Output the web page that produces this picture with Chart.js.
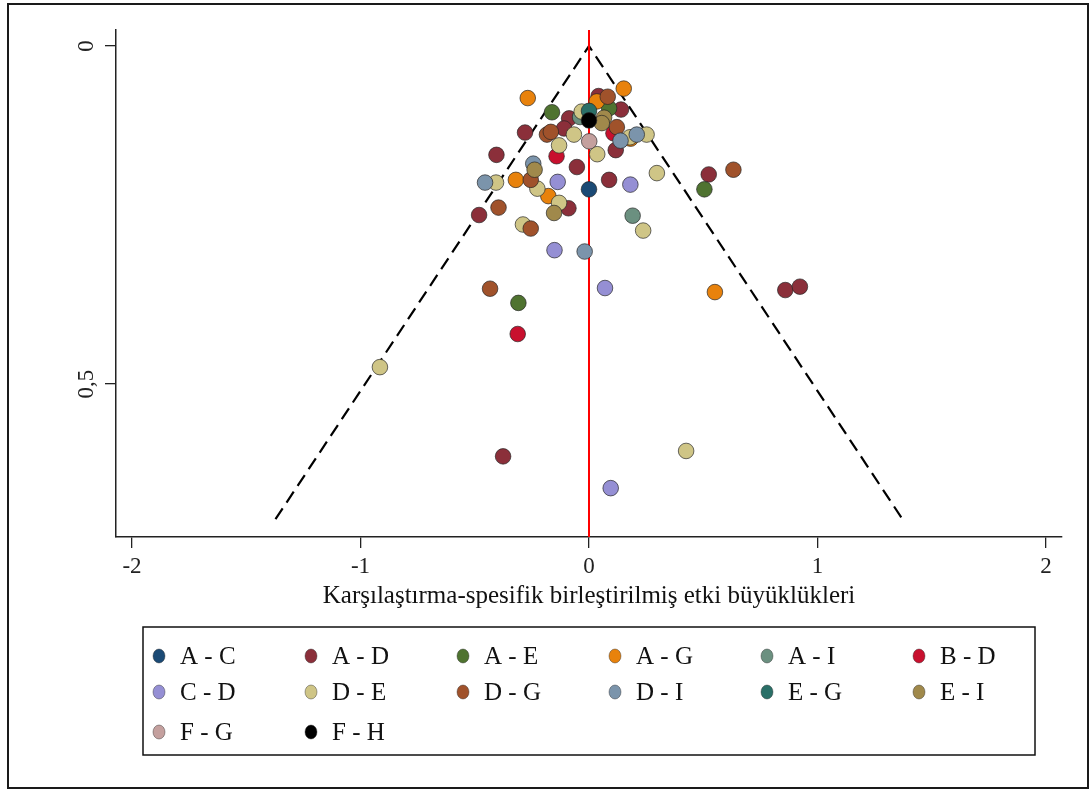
<!DOCTYPE html>
<html>
<head>
<meta charset="utf-8">
<script src="https://cdn.jsdelivr.net/npm/chart.js@4.4.1/dist/chart.umd.min.js"></script>
<style>
  html, body { margin: 0; padding: 0; background: #fff; }
  #wrap { width: 1092px; height: 794px; position: relative; }
</style>
</head>
<body>
<div id="wrap"><canvas id="c" width="1092" height="794"></canvas></div>
<script>
// Comparison labels (legend order)
const categories = ['A - C', 'A - D', 'A - E', 'A - G', 'A - I', 'B - D',
                    'C - D', 'D - E', 'D - G', 'D - I', 'E - G', 'E - I',
                    'F - G', 'F - H'];

// Each study: [comparison-specific pooled effect size, standard error]
const seriesAC = [[0.000, 0.212]];
const seriesAD = [[0.042, 0.074], [-0.087, 0.107], [-0.109, 0.122], [-0.280, 0.128],
                  [0.140, 0.094], [0.117, 0.154], [-0.405, 0.161], [-0.053, 0.179],
                  [0.088, 0.198], [-0.090, 0.240], [-0.481, 0.250], [0.524, 0.190],
                  [0.859, 0.361], [0.923, 0.356], [-0.376, 0.607]];
const seriesAE = [[-0.162, 0.098], [0.088, 0.092], [0.505, 0.212], [-0.309, 0.380]];
const seriesAG = [[-0.268, 0.077], [0.152, 0.063], [0.034, 0.082], [-0.320, 0.198],
                  [-0.178, 0.222], [0.551, 0.364], [0.182, 0.137]];
const seriesAI = [[0.191, 0.251], [-0.039, 0.105]];
const seriesBD = [[-0.142, 0.163], [-0.312, 0.426], [0.107, 0.129]];
const seriesCD = [[-0.137, 0.201], [0.181, 0.205], [-0.151, 0.302], [0.070, 0.358],
                  [0.095, 0.654]];
const seriesDE = [[-0.032, 0.097], [-0.066, 0.131], [-0.131, 0.147], [0.036, 0.160],
                  [0.252, 0.131], [0.297, 0.188], [-0.407, 0.202], [-0.226, 0.211],
                  [-0.131, 0.232], [0.237, 0.273], [-0.289, 0.264], [-0.915, 0.475],
                  [0.425, 0.599], [0.179, 0.135]];
const seriesDG = [[0.082, 0.075], [-0.184, 0.131], [-0.167, 0.127], [0.122, 0.120],
                  [-0.255, 0.198], [-0.396, 0.239], [-0.255, 0.270], [0.632, 0.183],
                  [-0.433, 0.359]];
const seriesDI = [[0.138, 0.140], [0.209, 0.131], [-0.244, 0.174], [-0.455, 0.202],
                  [-0.019, 0.304]];
const seriesEG = [[0.000, 0.096]];
const seriesEI = [[0.066, 0.106], [0.056, 0.114], [-0.238, 0.183], [-0.153, 0.247]];
const seriesFG = [[0.001, 0.141]];
const seriesFH = [[0.000, 0.110]];

const allSeries = [seriesAC, seriesAD, seriesAE, seriesAG, seriesAI, seriesBD,
                   seriesCD, seriesDE, seriesDG, seriesDI, seriesEG, seriesEI,
                   seriesFG, seriesFH];

const colors = ['#1b4a75', '#8b2f3a', '#4f7330', '#e8820c', '#6b9080', '#c8102e',
                '#958fd4', '#cfc586', '#a0522b', '#7b94ab', '#2a6f67', '#a0894b',
                '#c4a09e', '#000000'];

// Pseudo 95% confidence funnel and the zero-effect reference line
const funnelX = [-1.372, 0, 1.372];
const funnelY = [0.700, 0, 0.700];
const refX = [0, 0];
const refY = [-0.0237, 0.7263];

const xTicks = [-2, -1, 0, 1, 2];
const yTicks = [0, 0.5];
const xTitle = 'Karşılaştırma-spesifik birleştirilmiş etki büyüklükleri';

const SERIF = '"Liberation Serif", "Times New Roman", serif';

const pointSets = allSeries.map((s, i) => ({
  type: 'scatter',
  label: categories[i],
  data: s.map(([x, y]) => ({ x, y })),
  backgroundColor: colors[i],
  borderColor: 'rgba(35,35,35,0.85)',
  borderWidth: 0.8,
  pointRadius: 7.8,
  order: 40 - i
}));

const lineSets = [
  {
    type: 'line', label: 'funnel',
    data: funnelX.map((x, i) => ({ x, y: funnelY[i] })),
    borderColor: '#000', borderWidth: 2.2, borderDash: [13, 7],
    pointRadius: 0, fill: false, tension: 0, order: 100
  },
  {
    type: 'line', label: 'ref',
    data: refX.map((x, i) => ({ x, y: refY[i] })),
    borderColor: '#ff0000', borderWidth: 2, pointRadius: 0,
    fill: false, tension: 0, order: 90
  }
];

// Frame, rotated y labels and the boxed legend
const decorations = {
  id: 'decorations',
  afterDraw(chart) {
    const ctx = chart.ctx;
    ctx.save();
    // outer frame
    ctx.strokeStyle = '#1a1a1a';
    ctx.lineWidth = 2;
    ctx.strokeRect(8, 4, 1080, 784);

    // y tick labels, reading bottom to top
    const ys = chart.scales.y;
    ctx.fillStyle = '#222';
    ctx.font = '23px ' + SERIF;
    ctx.textAlign = 'center';
    ctx.textBaseline = 'middle';
    yTicks.forEach(v => {
      const py = ys.getPixelForValue(v);
      ctx.save();
      ctx.translate(87, py);
      ctx.rotate(-Math.PI / 2);
      ctx.fillText(String(v).replace('.', ','), 0, 0);
      ctx.restore();
    });

    // legend
    const box = { x: 143, y: 627, w: 892, h: 128 };
    ctx.lineWidth = 1.5;
    ctx.strokeStyle = '#111';
    ctx.strokeRect(box.x, box.y, box.w, box.h);
    const rows = [656, 692, 732];
    const col0 = 159, colW = 152;
    ctx.font = '25px ' + SERIF;
    ctx.textAlign = 'left';
    ctx.textBaseline = 'middle';
    categories.forEach((name, i) => {
      const cx = col0 + (i % 6) * colW;
      const cy = rows[Math.floor(i / 6)];
      ctx.beginPath();
      ctx.ellipse(cx, cy, 6, 7, 0, 0, Math.PI * 2);
      ctx.fillStyle = colors[i];
      ctx.fill();
      ctx.lineWidth = 0.6;
      ctx.strokeStyle = 'rgba(40,40,40,0.7)';
      ctx.stroke();
      ctx.fillStyle = '#111';
      ctx.fillText(name, cx + 21, cy + 1);
    });
    ctx.restore();
  }
};

new Chart(document.getElementById('c'), {
  type: 'scatter',
  data: { datasets: [...pointSets, ...lineSets] },
  options: {
    responsive: false,
    animation: false,
    devicePixelRatio: 1,
    events: [],
    layout: { padding: { left: 56, right: 30, top: 30, bottom: 177 } },
    plugins: { legend: { display: false }, tooltip: { enabled: false } },
    scales: {
      x: {
        type: 'linear', min: -2.07, max: 2.07,
        afterBuildTicks: s => { s.ticks = xTicks.map(v => ({ value: v })); },
        afterFit: s => { s.height = 80; },
        ticks: { color: '#222', font: { family: SERIF, size: 23 }, padding: 5,
                 callback: v => String(v) },
        grid: { display: true, drawOnChartArea: false, drawTicks: true,
                tickLength: 11, color: '#222', lineWidth: 1.3 },
        border: { display: true, color: '#222', width: 1.5 },
        title: { display: true, text: xTitle, color: '#111',
                 font: { family: SERIF, size: 25 }, padding: { top: 0, bottom: 6 } }
      },
      y: {
        type: 'linear', reverse: true, min: -0.0237, max: 0.7263,
        afterBuildTicks: s => { s.ticks = yTicks.map(v => ({ value: v })); },
        afterFit: s => { s.width = 60; },
        ticks: { display: false },
        grid: { display: true, drawOnChartArea: false, drawTicks: true,
                tickLength: 11, color: '#222', lineWidth: 1.3 },
        border: { display: true, color: '#222', width: 1.5 }
      }
    }
  },
  plugins: [decorations]
});
</script>
</body>
</html>
